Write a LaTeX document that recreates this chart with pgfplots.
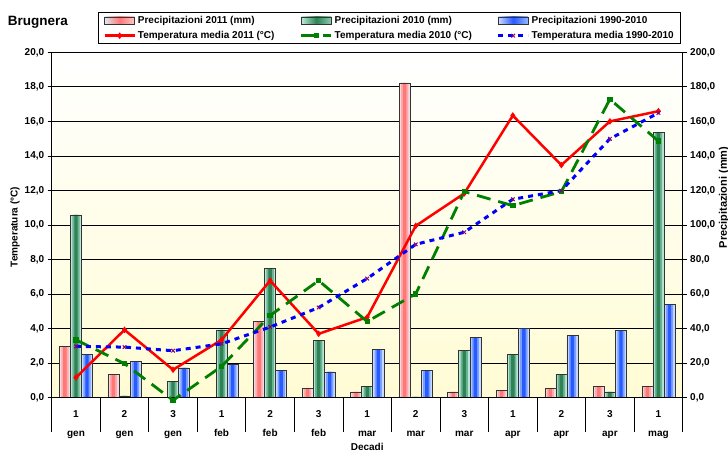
\documentclass[border=0pt]{standalone}
\usepackage{pgfplots}
\usepackage{pgfplotstable}
\pgfplotsset{compat=1.18}
\usepackage{fontspec}
\setmainfont{Liberation Sans}
\definecolor{bgy}{RGB}{255,252,212}
\definecolor{pinkC}{RGB}{255,120,120}
\definecolor{pinkM}{RGB}{255,170,170}
\definecolor{pinkE}{RGB}{240,220,225}
\definecolor{pinkL}{RGB}{220,232,240}
\definecolor{pinkR}{RGB}{255,200,200}
\definecolor{greenC}{RGB}{46,130,85}
\definecolor{greenM}{RGB}{105,180,145}
\definecolor{greenE}{RGB}{185,230,215}
\definecolor{greenL}{RGB}{190,235,220}
\definecolor{greenR}{RGB}{140,205,175}
\definecolor{blueC}{RGB}{40,90,255}
\definecolor{blueM}{RGB}{120,160,255}
\definecolor{blueE}{RGB}{200,218,255}
\definecolor{blueL}{RGB}{205,222,255}
\definecolor{blueR}{RGB}{150,185,255}
\definecolor{grn}{RGB}{0,128,0}
\definecolor{purp}{RGB}{128,0,128}
\pgfplotstableread{
x p11 p10 p90
0 29.7 105.8 25.3
1 13.5 1.0 21.0
2 0 9.4 17.2
3 0 39.3 19.1
4 44.1 75.0 15.8
5 5.4 33.1 15.0
6 3.3 6.5 27.9
7 182.3 0.5 15.8
8 3.3 27.2 35.1
9 4.2 25.2 40.1
10 5.4 13.5 36.0
11 6.5 3.3 39.1
12 6.4 153.6 53.9
}\precip
\pgfplotstableread{
x t11 t10 t90
0 1.17 3.35 2.97
1 3.93 1.97 2.93
2 1.62 -0.15 2.72
3 3.35 1.81 3.12
4 6.78 4.76 4.09
5 3.70 6.78 5.22
6 4.66 4.41 6.9
7 9.95 6.01 8.88
8 11.83 11.93 9.58
9 16.34 11.12 11.49
10 13.47 11.93 11.99
11 16.0 17.28 14.99
12 16.59 14.86 16.49
}\temps
\pgfplotsset{
  barlegend/.style={legend image code/.code={\draw[##1] (0pt,-3.5pt) rectangle (30pt,3.5pt);}},
  linelegend/.style={legend image code/.code={\draw[mark repeat=2,mark phase=2,##1] plot coordinates {(0pt,0pt) (15pt,0pt) (30pt,0pt)};}},
  pinkbar/.style={draw=black!80, line width=0.5pt, left color=pinkL, right color=pinkR, middle color=pinkC},
  greenbar/.style={draw=black!80, line width=0.5pt, left color=greenL, right color=greenR, middle color=greenC},
  bluebar/.style={draw=black!80, line width=0.5pt, left color=blueL, right color=blueR, middle color=blueC},
  commonax/.style={at={(51.7pt,54.3pt)}, anchor=south west, width=631pt, height=345.4pt, scale only axis,
    xmin=-0.5, xmax=12.5, axis line style={-, black, line width=0.8pt},
    tick align=outside, tick style={black, line width=0.8pt},
    every tick label/.append style={font=\bfseries\fontsize{10}{12}\selectfont},
    y tick label style={/pgf/number format/fixed, /pgf/number format/fixed zerofill, /pgf/number format/precision=1, /pgf/number format/use comma, /pgf/number format/assume math mode=true}},
}
\begin{document}
\begin{tikzpicture}[x=1pt,y=1pt,font=\bfseries]
\useasboundingbox (0,0) rectangle (728,452);
\node[font=\bfseries\fontsize{13.5}{16}\selectfont, anchor=center] at (38,430) {Brugnera};

% bars (precipitation, right axis)
\begin{axis}[commonax,
  ymin=0, ymax=200,
  axis background/.style={top color=white, bottom color=bgy},
  axis x line*=bottom, axis y line*=right,
  ytick={0,20,...,200}, major tick length=4pt,
  ymajorgrids, grid style={black, line width=0.7pt},
  xtick={0,...,12}, xtick style={draw=none},
  xticklabels={{1\\[7pt]gen},{2\\[7pt]gen},{3\\[7pt]gen},{1\\[7pt]feb},{2\\[7pt]feb},{3\\[7pt]feb},{1\\[7pt]mar},{2\\[7pt]mar},{3\\[7pt]mar},{1\\[7pt]apr},{2\\[7pt]apr},{3\\[7pt]apr},{1\\[7pt]mag}},
  x tick label style={align=center, yshift=-5pt},
  ylabel={Precipitazioni (mm)},
  ylabel style={at={(axis description cs:1.0655,0.58)}, anchor=center, font=\bfseries\fontsize{11}{13}\selectfont},
]
% pink 2011
\addplot[ybar, bar width=0.228, bar shift=-0.228, fill=pinkE, draw=none] table[x=x,y=p11] {\precip};
\addplot[ybar, bar width=0.15, bar shift=-0.228, fill=pinkM, draw=none] table[x=x,y=p11] {\precip};
\addplot[ybar, bar width=0.07, bar shift=-0.228, fill=pinkC, draw=none] table[x=x,y=p11] {\precip};
\addplot[ybar, bar width=0.228, bar shift=-0.228, fill=none, draw=black!80, line width=0.5pt] table[x=x,y=p11] {\precip};
% green 2010
\addplot[ybar, bar width=0.228, bar shift=0, fill=greenE, draw=none] table[x=x,y=p10] {\precip};
\addplot[ybar, bar width=0.15, bar shift=0, fill=greenM, draw=none] table[x=x,y=p10] {\precip};
\addplot[ybar, bar width=0.07, bar shift=0, fill=greenC, draw=none] table[x=x,y=p10] {\precip};
\addplot[ybar, bar width=0.228, bar shift=0, fill=none, draw=black!80, line width=0.5pt] table[x=x,y=p10] {\precip};
% blue 1990-2010
\addplot[ybar, bar width=0.228, bar shift=0.228, fill=blueE, draw=none] table[x=x,y=p90] {\precip};
\addplot[ybar, bar width=0.15, bar shift=0.228, fill=blueM, draw=none] table[x=x,y=p90] {\precip};
\addplot[ybar, bar width=0.07, bar shift=0.228, fill=blueC, draw=none] table[x=x,y=p90] {\precip};
\addplot[ybar, bar width=0.228, bar shift=0.228, fill=none, draw=black!80, line width=0.5pt] table[x=x,y=p90] {\precip};
\end{axis}

% category separators and x label
\begin{axis}[commonax,
  ymin=0, ymax=1, hide y axis,
  axis x line*=bottom,
  xtick={-0.5,0.5,1.5,2.5,3.5,4.5,5.5,6.5,7.5,8.5,9.5,10.5,11.5,12.5}, xticklabels={},
  major tick length=34pt,
  xlabel={Decadi},
  xlabel style={at={(axis description cs:0.5,0)}, anchor=center, yshift=-49pt, font=\bfseries\fontsize{10}{12}\selectfont},
]
\addplot[draw=none] coordinates {(0,0.5)};
\end{axis}

% temperature lines (left axis)
\begin{axis}[commonax,
  ymin=0, ymax=20, clip=false,
  axis y line*=left, axis x line=none,
  ytick={0,2,...,20}, major tick length=4pt,
  ylabel={Temperatura (°C)},
  ylabel style={at={(axis description cs:-0.0582,0.494)}, anchor=center, font=\bfseries\fontsize{10}{12}\selectfont},
  legend columns=3,
  legend style={at={(0.0734,1.024)}, anchor=south west, draw=black, line width=0.8pt, fill=white,
    font=\bfseries\fontsize{10}{12}\selectfont, inner xsep=5pt, inner ysep=1.5pt, row sep=2.5pt,
    /tikz/every odd column/.append style={column sep=0pt}},
  legend cell align=left,
]
\addlegendimage{barlegend, pinkbar}
\addlegendimage{barlegend, greenbar}
\addlegendimage{barlegend, bluebar}
\addplot[linelegend, red, line width=2.5pt, mark=diamond*, mark size=1.3pt] table[x=x,y=t11] {\temps};
\addplot[linelegend, grn, line width=2.8pt, dash pattern=on 14pt off 8pt, mark=square*, mark size=1.3pt, mark options={solid}] table[x=x,y=t10] {\temps};
\addplot[linelegend, blue, line width=3pt, dash pattern=on 5pt off 5pt, mark=x, mark size=2.5pt, mark options={solid, purp, line width=1pt}] table[x=x,y=t90] {\temps};
\legend{\makebox[160pt][l]{Precipitazioni 2011 (mm)},\makebox[160pt][l]{Precipitazioni 2010 (mm)},Precipitazioni 1990-2010,
\makebox[160pt][l]{Temperatura media 2011 (°C)},\makebox[160pt][l]{Temperatura media 2010 (°C)},Temperatura media 1990-2010}
\end{axis}
\end{tikzpicture}
\end{document}
